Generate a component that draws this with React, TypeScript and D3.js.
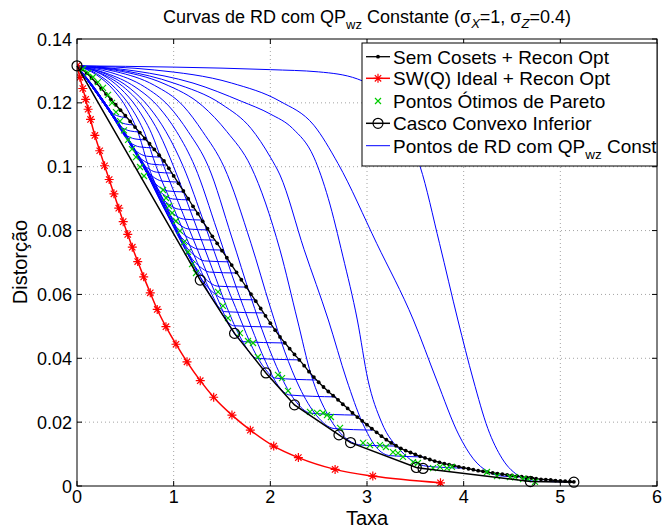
import React from 'react';
import * as d3 from 'd3';

const W = 669;
const H = 528;
const PL = 77, PR = 657, PT = 39, PB = 486;

const xTicks = [0, 1, 2, 3, 4, 5, 6];
const yTicks = [0, 0.02, 0.04, 0.06, 0.08, 0.1, 0.12, 0.14];
const yTickLabels = ['0', '0.02', '0.04', '0.06', '0.08', '0.1', '0.12', '0.14'];

type P = [number, number];

// Sem Cosets + Recon Opt
const semCosets: P[] = [
  [0, 0.1316], [0.05, 0.1305], [0.1, 0.1293], [0.15, 0.1278], [0.2, 0.1262], [0.25, 0.1245],
  [0.3, 0.1228], [0.35, 0.1211], [0.4, 0.1194], [0.45, 0.1177], [0.5, 0.116], [0.55, 0.1142],
  [0.6, 0.1124], [0.65, 0.1107], [0.7, 0.1089], [0.75, 0.1072], [0.8, 0.1054], [0.85, 0.1036],
  [0.9, 0.1018], [0.95, 0.0995], [1.0, 0.0971], [1.05, 0.0948], [1.1, 0.0924], [1.15, 0.09],
  [1.2, 0.0876], [1.25, 0.0853], [1.3, 0.0829], [1.35, 0.0806], [1.4, 0.0782], [1.45, 0.076],
  [1.5, 0.0737], [1.55, 0.0715], [1.6, 0.0692], [1.65, 0.0669], [1.7, 0.0646], [1.75, 0.0624],
  [1.8, 0.0601], [1.85, 0.0579], [1.9, 0.0556], [1.95, 0.0533], [2.0, 0.051], [2.05, 0.0488],
  [2.1, 0.0467], [2.15, 0.0448], [2.2, 0.043], [2.25, 0.0412], [2.3, 0.0395], [2.35, 0.0377],
  [2.4, 0.0358], [2.45, 0.0341], [2.5, 0.0325], [2.55, 0.031], [2.6, 0.0296], [2.65, 0.0283],
  [2.7, 0.027], [2.75, 0.0256], [2.8, 0.0243], [2.85, 0.0229], [2.9, 0.0216], [2.95, 0.0204],
  [3.0, 0.0192], [3.05, 0.018], [3.1, 0.0168], [3.15, 0.0156], [3.2, 0.0145], [3.25, 0.0135],
  [3.3, 0.0126], [3.35, 0.0118], [3.4, 0.0111], [3.45, 0.0105], [3.5, 0.0099], [3.55, 0.0093],
  [3.6, 0.0088], [3.65, 0.0083], [3.7, 0.0078], [3.75, 0.0074], [3.8, 0.007], [3.85, 0.0067],
  [3.9, 0.0064], [3.95, 0.006], [4.0, 0.0057], [4.05, 0.0054], [4.1, 0.0051], [4.15, 0.0048],
  [4.2, 0.0046], [4.25, 0.0043], [4.3, 0.0041], [4.35, 0.0039], [4.4, 0.0037], [4.45, 0.0035],
  [4.5, 0.0033], [4.55, 0.0031], [4.6, 0.0029], [4.65, 0.0027], [4.7, 0.0025], [4.75, 0.0023],
  [4.8, 0.0021], [4.85, 0.002], [4.9, 0.0019], [4.95, 0.0017], [5.0, 0.0016], [5.05, 0.0015],
  [5.1, 0.0014], [5.14, 0.0013],
];

// SW(Q) Ideal + Recon Opt
const swIdeal: P[] = [
  [0, 0.1316], [0.03, 0.128], [0.06, 0.1245], [0.09, 0.1211], [0.115, 0.118], [0.14, 0.1148],
  [0.185, 0.1098], [0.235, 0.105], [0.285, 0.1003], [0.333, 0.096], [0.382, 0.0915], [0.432, 0.087],
  [0.478, 0.0828], [0.525, 0.0788], [0.572, 0.0748], [0.628, 0.0703], [0.69, 0.0655], [0.758, 0.0605],
  [0.83, 0.0553], [0.92, 0.0499], [1.024, 0.0444], [1.138, 0.0389], [1.275, 0.033], [1.414, 0.0278],
  [1.603, 0.0222], [1.793, 0.0175], [2.035, 0.0125], [2.29, 0.0089], [2.67, 0.0052], [3.06, 0.0031],
  [3.76, 0.001],
];

// Pontos Otimos de Pareto
const pareto: P[] = [
  [0.062, 0.1306], [0.114, 0.1294], [0.166, 0.1281], [0.217, 0.1265], [0.269, 0.1247], [0.321, 0.1225],
  [0.362, 0.12], [0.403, 0.1171], [0.445, 0.1143], [0.486, 0.1114], [0.528, 0.1084], [0.569, 0.1055],
  [0.61, 0.103], [0.652, 0.0999], [0.693, 0.0971], [0.89, 0.0927], [0.921, 0.0902], [0.952, 0.0877],
  [0.983, 0.0855], [1.024, 0.083], [1.065, 0.0799], [1.107, 0.0764], [1.148, 0.0733], [1.19, 0.0695],
  [1.231, 0.0667], [1.459, 0.0608], [1.51, 0.0564], [1.562, 0.0526], [1.686, 0.0479], [1.769, 0.0454],
  [1.821, 0.0448], [1.872, 0.0404], [2.079, 0.0348], [2.121, 0.0338], [2.183, 0.0298], [2.41, 0.0232],
  [2.483, 0.0229], [2.545, 0.0229], [2.586, 0.0222], [2.627, 0.0216], [2.721, 0.0182], [2.959, 0.0135],
  [3.031, 0.0128], [3.134, 0.0128], [3.196, 0.0122], [3.269, 0.0106], [3.321, 0.0103], [3.372, 0.0091],
  [3.476, 0.0075], [3.527, 0.0072], [3.683, 0.0056], [3.755, 0.006], [3.827, 0.0056], [3.879, 0.006],
  [4.241, 0.0044], [4.345, 0.0031], [4.479, 0.0028], [4.531, 0.0028], [4.614, 0.0022], [4.665, 0.0022],
  [4.738, 0.0013],
];

// Casco Convexo Inferior
const hull: P[] = [
  [0, 0.1316], [1.275, 0.0645], [1.63, 0.0478], [1.955, 0.0354], [2.25, 0.0254], [2.71, 0.016],
  [2.83, 0.0136], [3.51, 0.0058], [3.58, 0.0055], [4.69, 0.0014], [5.14, 0.0012],
];

// Pontos de RD com QPwz Const (one curve per QPwz)
const rdCurves: P[][] = [
  [[0, 0.1316], [0.2, 0.124], [0.36, 0.1169], [0.46, 0.1156], [0.52, 0.1153]],
  [[0, 0.1316], [0.22, 0.123], [0.4, 0.1148], [0.5, 0.1134], [0.58, 0.1131]],
  [[0, 0.1316], [0.245, 0.122], [0.45, 0.1126], [0.55, 0.1112], [0.64, 0.1109]],
  [[0, 0.1316], [0.27, 0.1208], [0.5, 0.1101], [0.6, 0.1087], [0.71, 0.1084]],
  [[0, 0.1316], [0.295, 0.1197], [0.55, 0.1076], [0.65, 0.1062], [0.79, 0.1059]],
  [[0, 0.1316], [0.33, 0.1183], [0.62, 0.1047], [0.72, 0.1033], [0.87, 0.103]],
  [[0, 0.1316], [0.355, 0.1172], [0.67, 0.1023], [0.77, 0.1008], [0.94, 0.1005]],
  [[0, 0.1316], [0.38, 0.116], [0.72, 0.0998], [0.82, 0.0983], [0.99, 0.098]],
  [[0, 0.1316], [0.41, 0.1147], [0.78, 0.097], [0.88, 0.0955], [1.04, 0.0952]],
  [[0, 0.1316], [0.44, 0.1133], [0.84, 0.0939], [0.94, 0.0924], [1.11, 0.0921]],
  [[0, 0.1316], [0.465, 0.1121], [0.89, 0.0914], [0.99, 0.0899], [1.17, 0.0896]],
  [[0, 0.1316], [0.495, 0.1106], [0.95, 0.0882], [1.05, 0.0867], [1.23, 0.0864]],
  [[0, 0.1316], [0.52, 0.1093], [1.0, 0.0852], [1.1, 0.0836], [1.29, 0.0833]],
  [[0, 0.1316], [0.545, 0.1079], [1.05, 0.0821], [1.15, 0.0805], [1.36, 0.0802]],
  [[0, 0.1316], [0.57, 0.1065], [1.1, 0.0789], [1.2, 0.0773], [1.43, 0.077]],
  [[0, 0.1316], [0.595, 0.1052], [1.15, 0.0758], [1.25, 0.0742], [1.5, 0.0739]],
  [[0, 0.1316], [0.63, 0.1036], [1.22, 0.0721], [1.32, 0.0705], [1.58, 0.0702]],
  [[0, 0.1316], [0.655, 0.1022], [1.27, 0.0687], [1.37, 0.067], [1.66, 0.0667]],
  [[0, 0.1316], [0.695, 0.1005], [1.35, 0.0643], [1.45, 0.0626], [1.75, 0.0623]],
  [[0, 0.1316], [0.73, 0.099], [1.42, 0.0603], [1.52, 0.0586], [1.84, 0.0583]],
  [[0, 0.1316], [0.2, 0.1288], [0.38, 0.124], [0.52, 0.118], [0.64, 0.11], [0.74, 0.1], [0.92, 0.088],
    [1.12, 0.075], [1.3, 0.064], [1.44, 0.057], [1.53, 0.0546], [1.93, 0.0542]],
  [[0, 0.1316], [0.2, 0.1292], [0.4, 0.1245], [0.56, 0.1185], [0.7, 0.1105], [0.82, 0.1], [1.0, 0.087],
    [1.2, 0.073], [1.38, 0.061], [1.52, 0.053], [1.62, 0.0502], [2.02, 0.0498]],
  [[0, 0.1316], [0.25, 0.129], [0.45, 0.1245], [0.62, 0.1185], [0.77, 0.1105], [0.9, 0.1], [1.1, 0.085],
    [1.3, 0.07], [1.45, 0.059], [1.6, 0.049], [1.72, 0.0452], [2.14, 0.0448]],
  [[0, 0.1316], [0.25, 0.1292], [0.5, 0.1245], [0.7, 0.118], [0.85, 0.1105], [1.0, 0.1], [1.2, 0.084],
    [1.4, 0.068], [1.55, 0.056], [1.7, 0.046], [1.86, 0.04], [2.3, 0.0395]],
  [[0, 0.1316], [0.3, 0.129], [0.55, 0.1245], [0.75, 0.1185], [0.92, 0.111], [1.1, 0.1], [1.32, 0.082],
    [1.52, 0.065], [1.68, 0.053], [1.82, 0.043], [1.95, 0.0365], [2.05, 0.0338], [2.48, 0.0332]],
  [[0, 0.1316], [0.3, 0.1293], [0.6, 0.125], [0.85, 0.1185], [1.03, 0.111], [1.22, 0.1], [1.45, 0.08],
    [1.65, 0.062], [1.8, 0.05], [1.95, 0.039], [2.08, 0.0315], [2.2, 0.0285], [2.68, 0.0279]],
  [[0, 0.1316], [0.35, 0.1295], [0.7, 0.125], [0.95, 0.119], [1.15, 0.111], [1.36, 0.1], [1.6, 0.078],
    [1.8, 0.059], [1.95, 0.046], [2.1, 0.035], [2.25, 0.027], [2.42, 0.0228], [2.88, 0.0222]],
  [[0, 0.1316], [0.4, 0.1298], [0.8, 0.1255], [1.1, 0.119], [1.3, 0.111], [1.52, 0.1], [1.8, 0.076],
    [2.0, 0.056], [2.15, 0.042], [2.3, 0.031], [2.48, 0.022], [2.66, 0.018], [3.06, 0.0175]],
  [[0, 0.1316], [0.4, 0.1302], [0.9, 0.126], [1.3, 0.119], [1.55, 0.111], [1.8, 0.1], [2.1, 0.0739],
    [2.28, 0.052], [2.42, 0.035], [2.6, 0.022], [2.8, 0.0145], [2.95, 0.0128], [3.32, 0.0125]],
  [[0, 0.1316], [0.5, 0.13], [1.0, 0.1262], [1.5, 0.1195], [1.8, 0.112], [2.0, 0.103], [2.1, 0.0974],
    [2.35, 0.074], [2.6, 0.052], [2.79, 0.0332], [2.95, 0.02], [3.1, 0.012], [3.24, 0.0095], [3.58, 0.0091]],
  [[0, 0.1316], [0.6, 0.13], [1.2, 0.1262], [1.7, 0.1205], [2.0, 0.1165], [2.23, 0.112], [2.45, 0.103],
    [2.6, 0.09], [2.75, 0.072], [2.9, 0.052], [3.01, 0.0332], [3.15, 0.02], [3.35, 0.011], [3.62, 0.0062],
    [4.0, 0.0056]],
  [[0, 0.1316], [0.8, 0.1303], [1.6, 0.1262], [2.1, 0.1205], [2.45, 0.113], [2.7, 0.101], [3.1, 0.076],
    [3.48, 0.052], [3.72, 0.0332], [3.95, 0.016], [4.1, 0.0085], [4.25, 0.0045], [4.4, 0.0031],
    [4.62, 0.0028]],
  [[0, 0.1316], [1.0, 0.1312], [2.0, 0.1304], [2.5, 0.1297], [2.9, 0.1275], [3.2, 0.121], [3.4, 0.111],
    [3.55, 0.1], [3.75, 0.076], [3.94, 0.052], [4.1, 0.0332], [4.25, 0.018], [4.4, 0.0085], [4.58, 0.003],
    [4.74, 0.0015], [5.14, 0.0013]],
];

const FONT = 'Liberation Sans, Arial, Helvetica, sans-serif';
const BLUE = '#0000ff';
const RED = '#ff0000';
const GREEN = '#00cc00';

const asterisk = (s: number) => {
  const a = s * 0.7071;
  return `M${-s},0L${s},0M0,${-s}L0,${s}M${-a},${-a}L${a},${a}M${-a},${a}L${a},${-a}`;
};
const cross = (s: number) => `M${-s},${-s}L${s},${s}M${-s},${s}L${s},${-s}`;

export default function App() {
  const x = d3.scaleLinear().domain([0, 6]).range([PL, PR]);
  const y = d3.scaleLinear().domain([0, 0.14]).range([PB, PT]);
  const smooth = d3.line<P>().x(d => x(d[0])).y(d => y(d[1])).curve(d3.curveMonotoneX);
  const straight = d3.line<P>().x(d => x(d[0])).y(d => y(d[1]));

  const fs = 18;
  const lfs = 19;
  const legX = 362, legY = 43, legW = 295, legH = 123;
  const rows = [56.7, 78.3, 101, 123.3, 145.7];
  const sx0 = 366, sx1 = 390, sxm = 378, tx = 393;

  return (
    <svg width={W} height={H} style={{ position: 'absolute', left: 0, top: 0, background: '#fff' }}
      fontFamily={FONT}>
      <rect x={0} y={0} width={W} height={H} fill="#fff" />
      <defs>
        <clipPath id="plotclip">
          <rect x={PL} y={PT} width={PR - PL} height={PB - PT} />
        </clipPath>
      </defs>
      {/* grid */}
      <g stroke="#8c8c8c" strokeWidth={0.8} strokeDasharray="1,3">
        {xTicks.slice(1, -1).map(t => (
          <line key={'gx' + t} x1={x(t)} x2={x(t)} y1={PT} y2={PB} />
        ))}
        {yTicks.slice(1, -1).map(t => (
          <line key={'gy' + t} x1={PL} x2={PR} y1={y(t)} y2={y(t)} />
        ))}
      </g>
      <g clipPath="url(#plotclip)">
        {rdCurves.map((c, i) => (
          <path key={'rd' + i} d={smooth(c) || ''} fill="none" stroke={BLUE} strokeWidth={1} />
        ))}
        <path d={smooth(semCosets) || ''} fill="none" stroke="#000" strokeWidth={1.3} />
        {semCosets.map((p, i) => (
          <circle key={'sc' + i} cx={x(p[0])} cy={y(p[1])} r={1.9} fill="#000" />
        ))}
        <path d={smooth(swIdeal) || ''} fill="none" stroke={RED} strokeWidth={1.5} />
        {swIdeal.map((p, i) => (
          <path key={'sw' + i} d={asterisk(4.5)} transform={`translate(${x(p[0])},${y(p[1])})`}
            stroke={RED} strokeWidth={1.2} fill="none" />
        ))}
        {pareto.map((p, i) => (
          <path key={'pa' + i} d={cross(3)} transform={`translate(${x(p[0])},${y(p[1])})`}
            stroke={GREEN} strokeWidth={1.2} fill="none" />
        ))}
      </g>
      <path d={straight(hull) || ''} fill="none" stroke="#000" strokeWidth={1.5} />
      {hull.map((p, i) => (
        <circle key={'hu' + i} cx={x(p[0])} cy={y(p[1])} r={5} fill="none" stroke="#000" strokeWidth={1.2} />
      ))}
      {/* axes box */}
      <rect x={PL} y={PT} width={PR - PL} height={PB - PT} fill="none" stroke="#000" strokeWidth={1} />
      <g stroke="#000" strokeWidth={1}>
        {xTicks.map(t => (
          <g key={'tx' + t}>
            <line x1={x(t)} x2={x(t)} y1={PB} y2={PB - 5} />
            <line x1={x(t)} x2={x(t)} y1={PT} y2={PT + 5} />
          </g>
        ))}
        {yTicks.map(t => (
          <g key={'ty' + t}>
            <line x1={PL} x2={PL + 5} y1={y(t)} y2={y(t)} />
            <line x1={PR} x2={PR - 5} y1={y(t)} y2={y(t)} />
          </g>
        ))}
      </g>
      <g fontSize={fs} fill="#000">
        {xTicks.map(t => (
          <text key={'lx' + t} x={x(t)} y={PB + 17} textAnchor="middle">{t}</text>
        ))}
        {yTicks.map((t, i) => (
          <text key={'ly' + t} x={PL - 5} y={y(t) + 6.5} textAnchor="end">{yTickLabels[i]}</text>
        ))}
      </g>
      <text x={(PL + PR) / 2} y={525} textAnchor="middle" fontSize={20}>Taxa</text>
      <text transform={`translate(27,262) rotate(-90)`} textAnchor="middle" fontSize={20}>Distorção</text>
      {/* title */}
      <text x={(PL + PR) / 2} y={23} textAnchor="middle" fontSize={fs}>
        Curvas de RD com QP<tspan dy={6} fontSize={13}>wz</tspan>
        <tspan dy={-6}> Constante (σ</tspan><tspan dy={5} fontSize={13} fontStyle="italic">X</tspan>
        <tspan dy={-5}>=1, σ</tspan><tspan dy={5} fontSize={13} fontStyle="italic">Z</tspan>
        <tspan dy={-5}>=0.4)</tspan>
      </text>
      {/* legend */}
      <rect x={legX} y={legY} width={legW} height={legH} fill="#fff" stroke="#000" strokeWidth={1} />
      <g fontSize={lfs}>
        <line x1={sx0} x2={sx1} y1={rows[0]} y2={rows[0]} stroke="#000" strokeWidth={1.3} />
        <circle cx={sxm} cy={rows[0]} r={1.9} fill="#000" />
        <text x={tx} y={rows[0] + 7}>Sem Cosets + Recon Opt</text>

        <line x1={sx0} x2={sx1} y1={rows[1]} y2={rows[1]} stroke={RED} strokeWidth={1.5} />
        <path d={asterisk(4.5)} transform={`translate(${sxm},${rows[1]})`} stroke={RED} strokeWidth={1.2} />
        <text x={tx} y={rows[1] + 7}>SW(Q) Ideal + Recon Opt</text>

        <path d={cross(3)} transform={`translate(${sxm},${rows[2]})`} stroke={GREEN} strokeWidth={1.2} />
        <text x={tx} y={rows[2] + 7}>Pontos Ótimos de Pareto</text>

        <line x1={sx0} x2={sx1} y1={rows[3]} y2={rows[3]} stroke="#000" strokeWidth={1.5} />
        <circle cx={sxm} cy={rows[3]} r={5} fill="none" stroke="#000" strokeWidth={1.2} />
        <text x={tx} y={rows[3] + 7}>Casco Convexo Inferior</text>

        <line x1={sx0} x2={sx1} y1={rows[4]} y2={rows[4]} stroke={BLUE} strokeWidth={1} />
        <text x={tx} y={rows[4] + 7}>Pontos de RD com QP<tspan dy={6} fontSize={13.5}>wz</tspan><tspan dy={-6}> Const</tspan></text>
      </g>
    </svg>
  );
}
